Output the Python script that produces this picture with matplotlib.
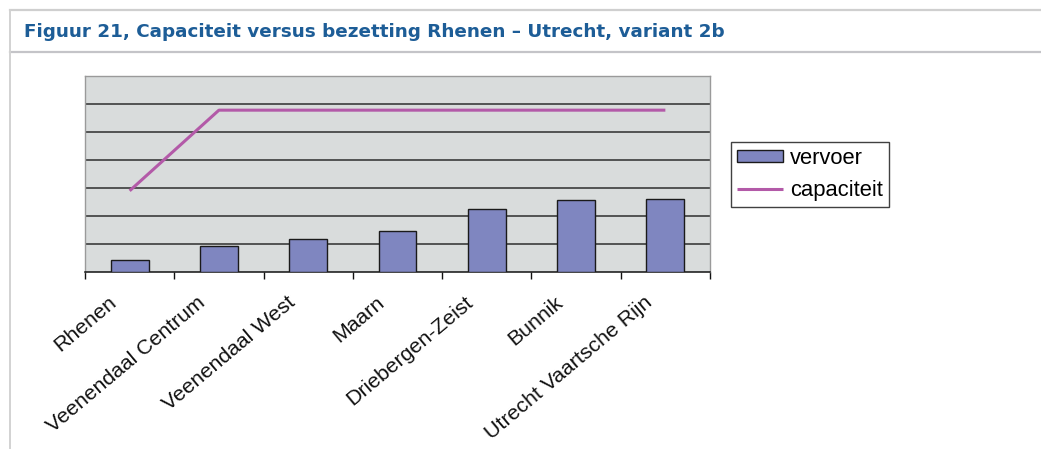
import matplotlib
matplotlib.use("Agg")
import matplotlib.pyplot as plt
from matplotlib.lines import Line2D
from matplotlib.transforms import ScaledTranslation
import numpy as np

# Data
stations = ["Rhenen", "Veenendaal Centrum", "Veenendaal West", "Maarn",
            "Driebergen-Zeist", "Bunnik", "Utrecht Vaartsche Rijn"]
vervoer = [42, 92, 119, 146, 224, 256, 262]
capaciteit = [290, 578, 578, 578, 578, 578, 578]
y_max = 700
y_step = 100

title = "Figuur 21, Capaciteit versus bezetting Rhenen \u2013 Utrecht, variant 2b"

W, H = 1041, 450
fig = plt.figure(figsize=(W / 100, H / 100), dpi=100)
fig.patch.set_facecolor("white")

# Frame lines around the figure block
frame_col = "#cfcfcf"
fig.add_artist(Line2D([10 / W, 1], [1 - 10 / H, 1 - 10 / H], transform=fig.transFigure,
                      color=frame_col, lw=1.6))
fig.add_artist(Line2D([10 / W, 1], [1 - 52 / H, 1 - 52 / H], transform=fig.transFigure,
                      color="#c4c4c8", lw=1.6))
fig.add_artist(Line2D([10 / W, 10 / W], [1 - 10 / H, 1 - 448 / H], transform=fig.transFigure,
                      color="#d2d2d2", lw=1.4))

fig.text(24 / W, 1 - 32 / H, title, ha="left", va="center", fontsize=13.2,
         fontweight="bold", color="#1d5d97", family="DejaVu Sans")

# Plot area
ax = fig.add_axes([85 / W, 1 - 272 / H, 625 / W, 196 / H])
ax.set_facecolor("#d9dcdc")

x = np.arange(len(stations))
bars = ax.bar(x, vervoer, width=0.425, color="#7f86c0", edgecolor="#1a1a1a",
              linewidth=1.0, zorder=3, label="vervoer")
line, = ax.plot(x, capaciteit, color="#b35aa8", lw=2.2, zorder=4, label="capaciteit",
                solid_capstyle="butt")

ax.set_xlim(-0.5, len(stations) - 0.5)
ax.set_ylim(0, y_max)
ax.set_yticks(np.arange(y_step, y_max, y_step))
ax.yaxis.grid(True, color="#2e2e2e", lw=1.1, zorder=1)
ax.tick_params(axis="y", left=False, labelleft=False)
ax.set_axisbelow(True)

for side in ("top", "left", "right"):
    ax.spines[side].set_color("#9a9a9a")
    ax.spines[side].set_linewidth(1.0)
ax.spines["bottom"].set_color("#111111")
ax.spines["bottom"].set_linewidth(1.1)

# Tick marks at category boundaries, labels at category centres
ax.set_xticks(np.arange(-0.5, len(stations), 1.0), minor=True)
ax.tick_params(axis="x", which="minor", length=5, width=1.0, color="#111111",
               direction="out")
ax.set_xticks(x)
ax.set_xticklabels(stations, rotation=40, ha="right", rotation_mode="anchor",
                   fontsize=15.3, family="Liberation Sans", color="#111111")
ax.tick_params(axis="x", which="major", length=0, pad=15)
for lab in ax.get_xticklabels():
    lab.set_transform(lab.get_transform() +
                      ScaledTranslation(-0.22, 0, fig.dpi_scale_trans))

leg = fig.legend([bars, line], ["vervoer", "capaciteit"],
                 loc="upper left", bbox_to_anchor=(731 / W, 1 - 142 / H),
                 bbox_transform=fig.transFigure, frameon=True, fancybox=False,
                 prop={"family": "Liberation Sans", "size": 15.8},
                 handlelength=2.1, handleheight=0.45, handletextpad=0.3,
                 labelspacing=0.5, borderpad=0.28, borderaxespad=0)
leg.get_frame().set_edgecolor("#111111")
leg.get_frame().set_linewidth(1.0)

fig.savefig("out.png", dpi=100, facecolor="white")
